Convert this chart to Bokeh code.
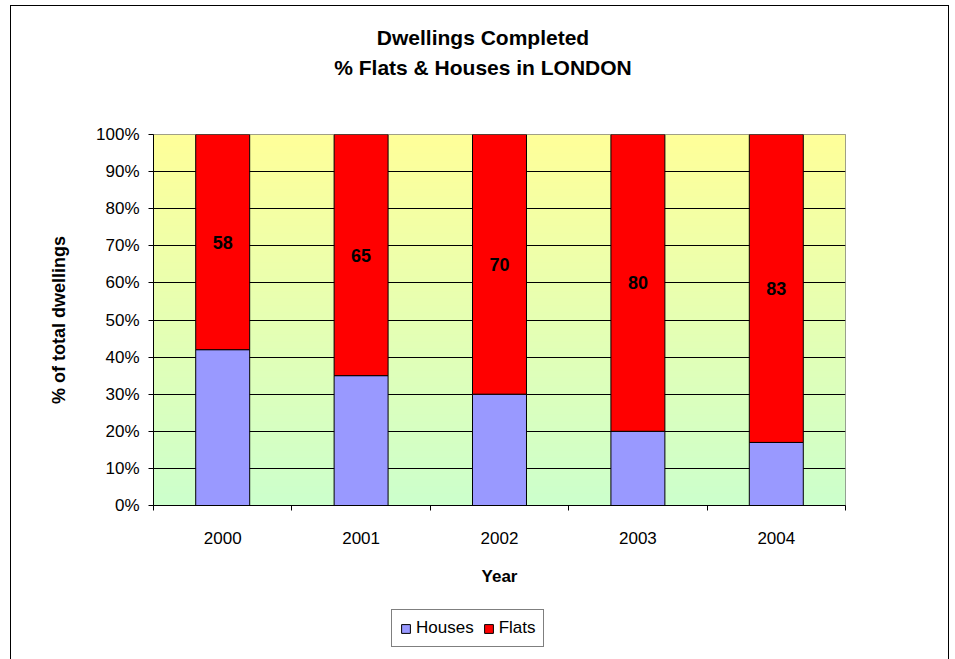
import numpy as np
from bokeh.plotting import figure
from bokeh.layouts import column
from bokeh.models import (Range1d, FixedTicker, NumeralTickFormatter, Legend, LegendItem,
                          ColumnDataSource, LabelSet)
from bokeh.core.properties import value
from bokeh.embed import file_html
from bokeh.resources import INLINE

# ---- data ----
years = ["2000", "2001", "2002", "2003", "2004"]
houses = [42, 35, 30, 20, 17]
flats = [58, 65, 70, 80, 83]
y_ticks = [0, 10, 20, 30, 40, 50, 60, 70, 80, 90, 100]
title_lines = ["Dwellings Completed", "% Flats & Houses in LONDON"]
series_names = ["Houses", "Flats"]
series_colors = ["#9999FF", "#FF0000"]

FONT = "Liberation Sans"
W = 937
BL, BR = 142, 103          # left / right border of every strip (frames are aligned)
FW = W - BL - BR           # frame width

xs = [i + 0.5 for i in range(len(years))]
src = ColumnDataSource(dict(
    x=xs,
    houses_top=[h / 100 for h in houses],
    flats_top=[(h + f) / 100 for h, f in zip(houses, flats)],
    label_y=[(h + f / 2) / 100 for h, f in zip(houses, flats)],
    label=[str(f) for f in flats],
))

# ---------- title strip (x and y in canvas pixels) ----------
TH = 108
tf = figure(width=W, height=TH, output_backend="svg", toolbar_location=None,
            x_range=Range1d(BL, BL + FW), y_range=Range1d(0, TH),
            x_axis_location=None, y_axis_location=None,
            min_border_left=BL, min_border_right=BR, min_border_top=0, min_border_bottom=0)
tf.outline_line_color = None
tf.xgrid.visible = False
tf.ygrid.visible = False
tsrc = ColumnDataSource(dict(x=[W / 2 + 3] * len(title_lines),
                             y=[TH - 31, TH - 61],
                             text=title_lines))
tf.text(x="x", y="y", text="text", source=tsrc, text_align="center",
        text_baseline="middle", text_font=value(FONT), text_font_size="21px",
        text_font_style="bold", text_color="black")

# ---------- main chart ----------
p = figure(width=W, frame_width=FW, frame_height=371, output_backend="svg",
           toolbar_location=None,
           x_range=Range1d(0, len(years)), y_range=Range1d(0, 1),
           min_border_left=BL, min_border_right=BR, min_border_top=20,
           min_border_bottom=95)
p.background_fill_color = None
p.border_fill_color = "white"
p.outline_line_color = "#808080"

# gradient background of the plot area
n = 256
top = np.array([255, 255, 153], dtype=float)
bot = np.array([204, 255, 204], dtype=float)
img = np.zeros((n, 1), dtype=np.uint32)
view = img.view(dtype=np.uint8).reshape((n, 1, 4))
for r in range(n):
    t = r / (n - 1)
    c = bot + (top - bot) * t
    view[r, 0, 0] = int(round(c[0]))
    view[r, 0, 1] = int(round(c[1]))
    view[r, 0, 2] = int(round(c[2]))
    view[r, 0, 3] = 255
p.image_rgba(image=[img], x=0, y=0, dw=len(years), dh=1, level="image")

# bars
r1 = p.vbar(x="x", bottom=0, top="houses_top", width=0.39, source=src,
            fill_color=series_colors[0], line_color="black", line_width=1)
r2 = p.vbar(x="x", bottom="houses_top", top="flats_top", width=0.39, source=src,
            fill_color=series_colors[1], line_color="black", line_width=1)

labels = LabelSet(x="x", y="label_y", text="label", source=src,
                  text_align="center", text_baseline="middle",
                  text_font=value(FONT), text_font_size=value("18px"),
                  text_font_style=value("bold"), text_color=value("black"))
p.add_layout(labels)

# grid
p.xgrid.visible = False
p.ygrid.ticker = FixedTicker(ticks=[t / 100 for t in y_ticks[1:-1]])
p.ygrid.grid_line_color = "black"
p.ygrid.grid_line_width = 1

# x axis
p.xaxis.ticker = FixedTicker(ticks=xs, minor_ticks=list(range(len(years) + 1)))
p.xaxis.major_label_overrides = {x: y for x, y in zip(xs, years)}
p.xaxis.major_tick_out = 0
p.xaxis.major_tick_in = 0
p.xaxis.minor_tick_out = 5
p.xaxis.minor_tick_in = 0
p.xaxis.minor_tick_line_color = "black"
p.xaxis.axis_line_color = "black"
p.xaxis.major_label_text_font = FONT
p.xaxis.major_label_text_font_size = "17px"
p.xaxis.major_label_text_color = "black"
p.xaxis.major_label_standoff = 21
p.xaxis.axis_label = "Year"
p.xaxis.axis_label_text_font = FONT
p.xaxis.axis_label_text_font_size = "17px"
p.xaxis.axis_label_text_font_style = "bold"
p.xaxis.axis_label_text_color = "black"
p.xaxis.axis_label_standoff = 20

# y axis
p.yaxis.ticker = FixedTicker(ticks=[t / 100 for t in y_ticks], minor_ticks=[])
p.yaxis.formatter = NumeralTickFormatter(format="0%")
p.yaxis.major_tick_out = 5
p.yaxis.major_tick_in = 0
p.yaxis.major_tick_line_color = "black"
p.yaxis.axis_line_color = "black"
p.yaxis.major_label_text_font = FONT
p.yaxis.major_label_text_font_size = "17px"
p.yaxis.major_label_text_color = "black"
p.yaxis.major_label_standoff = 9
p.yaxis.axis_label = "% of total dwellings"
p.yaxis.axis_label_text_font = FONT
p.yaxis.axis_label_text_font_size = "18px"
p.yaxis.axis_label_text_font_style = "bold"
p.yaxis.axis_label_text_color = "black"
p.yaxis.axis_label_standoff = 24

# ---------- legend strip ----------
LH = 60
lf = figure(width=W, height=LH, output_backend="svg", toolbar_location=None,
            x_range=Range1d(0, 1), y_range=Range1d(0, 1),
            x_axis_location=None, y_axis_location=None,
            min_border_left=BL, min_border_right=BR, min_border_top=0, min_border_bottom=0)
lf.outline_line_color = None
lf.xgrid.visible = False
lf.ygrid.visible = False
items = []
for name, col in zip(series_names, series_colors):
    # swatch carrier for the legend only (kept outside the visible range)
    rr = lf.vbar(x=[-5], bottom=[0], top=[0], width=0.1, fill_color=col, line_color="black")
    items.append(LegendItem(label=name, renderers=[rr]))
legend = Legend(items=items, orientation="horizontal", location=(238, 13),
                label_text_font=FONT, label_text_font_size="17px", label_text_color="black",
                glyph_width=11, glyph_height=11, spacing=9, padding=8,
                label_standoff=5, border_line_color="black", border_line_width=1,
                margin=0)
lf.add_layout(legend, "center")

layout = column(tf, p, lf, spacing=0)
layout.margin = (5, 0, 0, 10)
layout.styles = {"border": "1px solid black"}

open("out.html", "w").write(file_html(layout, INLINE))
